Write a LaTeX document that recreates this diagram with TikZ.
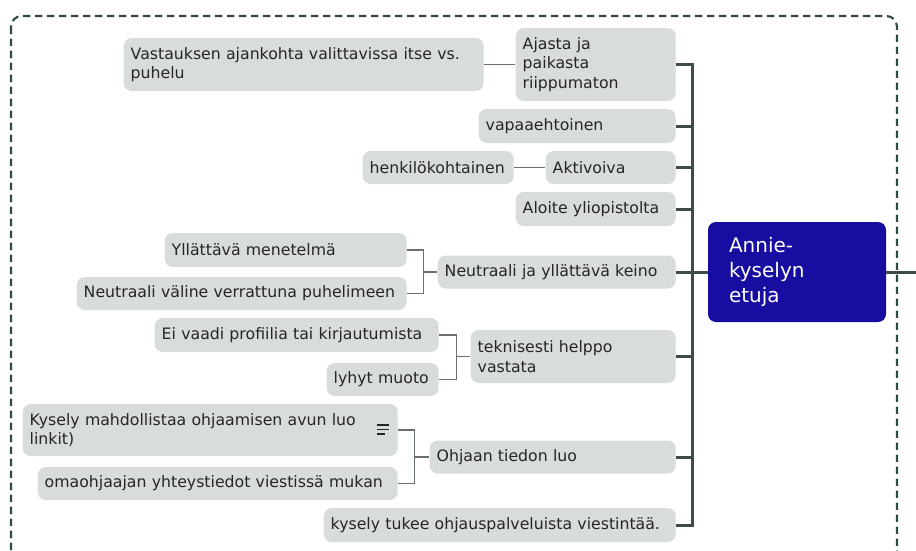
\documentclass[tikz,border=0pt]{standalone}
\usepackage{fontspec}
\setmainfont{DejaVu Sans}
\usepackage{xcolor}
\usepackage{tikz}
\usetikzlibrary{calc,positioning}

\definecolor{boxgray}{HTML}{D9DCDC}
\definecolor{annieblue}{HTML}{170DA0}
\definecolor{framegreen}{HTML}{2F4B47}
\definecolor{trunkgray}{HTML}{3E4C48}
\definecolor{twiggray}{HTML}{68716F}
\definecolor{inkgray}{HTML}{262626}

\begin{document}
\begin{tikzpicture}[x=.75pt,y=-.75pt,
  idea/.style={fill=boxgray,rounded corners=6pt,anchor=east,align=left,text=inkgray,
    font=\fontsize{11.8}{14.5}\selectfont,inner xsep=5.25pt,inner ysep=0pt},
  wd/.style={text width={(#1-14)*.75pt}},
  ht/.style={minimum height={#1*.75pt}},
  root/.style={fill=annieblue,rounded corners=6pt,align=left,text=white,
    font=\fontsize{15}{19}\selectfont,inner xsep=15.75pt,inner ysep=0pt,
    text width=102pt,minimum height=75pt},
  trunkline/.style={draw=trunkgray,line width=2.25pt},
  twig/.style={draw=twiggray,line width=.9pt},
  frame/.style={draw=framegreen,line width=1.6pt,dash pattern=on 5.5pt off 3.5pt,rounded corners=8pt}]
\useasboundingbox (0,0) rectangle (916,550);
\draw[frame] (11,16) rectangle (897,562);

% centre
\node[root] (annie) at (797,272) {Annie-\\kyselyn\\etuja};
\coordinate (trunk) at (692,0);
\coordinate (exit) at (916,272);

% first level
\node[idea,wd=160,ht=73] (ajasta) at (676,64.5) {Ajasta ja\\paikasta\\riippumaton};
\node[idea,wd=197,ht=34] (vapaa) at (676,126) {vapaaehtoinen};
\node[idea,wd=130,ht=33] (aktiv) at (676,167.5) {Aktivoiva};
\node[idea,wd=160,ht=34] (aloite) at (676,209) {Aloite yliopistolta};
\node[idea,wd=238,ht=33] (neutr) at (676,272) {Neutraali ja yllättävä keino};
\node[idea,wd=205,ht=53] (tekn) at (676,356.5) {teknisesti helppo\\vastata};
\node[idea,wd=246,ht=33] (ohjaan) at (676,457) {Ohjaan tiedon luo};
\node[idea,wd=352,ht=34] (tukee) at (676,525) {kysely tukee ohjauspalveluista viestintää.};

% second level
\node[idea,wd=360,ht=53] (vast) at (484,64.5) {Vastauksen ajankohta valittavissa itse vs.\\puhelu};
\node[idea,wd=151,ht=33] (henk) at (514,167.5) {henkilökohtainen};
\node[idea,wd=242,ht=34] (yllat) at (407,250) {Yllättävä menetelmä};
\node[idea,wd=330,ht=33] (valine) at (407,293.5) {Neutraali väline verrattuna puhelimeen};
\node[idea,wd=284,ht=34] (profiili) at (439,335) {Ei vaadi profiilia tai kirjautumista};
\node[idea,wd=112,ht=33] (lyhyt) at (439,379.5) {lyhyt muoto};
\node[idea,wd=375,ht=52] (linkit) at (398,430) {Kysely mahdollistaa ohjaamisen avun luo\\linkit)};
\node[idea,wd=360,ht=33] (omaohj) at (398,483.5) {omaohjaajan yhteystiedot viestissä mukan};

% note icon
\draw[draw=inkgray,line width=1pt] ($(linkit.east)+(-21,-5)$) -- ++(12,0)
  ($(linkit.east)+(-21,-.5)$) -- ++(12,0) ($(linkit.east)+(-21,4)$) -- ++(8,0);

% trunk
\draw[trunkline] (ajasta.east) -- (ajasta.east -| trunk) -- (tukee.east -| trunk) -- (tukee.east);
\foreach \n in {vapaa,aktiv,aloite,neutr,tekn,ohjaan}
  \draw[trunkline] (\n.east) -- (\n.east -| trunk);
\draw[trunkline] (annie.west) -- (annie.west -| trunk);
\draw[trunkline] (annie.east) -- (exit);

% twigs
\draw[twig] (vast.east) -- (ajasta.west);
\draw[twig] (henk.east) -- (aktiv.west);
\coordinate (b1) at ($(neutr.west)+(-14,0)$);
\draw[twig] (yllat.east) -| (b1) |- (valine.east);
\draw[twig] (b1) -- (neutr.west);
\coordinate (b2) at ($(tekn.west)+(-14,0)$);
\draw[twig] (profiili.east) -| (b2) |- (lyhyt.east);
\draw[twig] (b2) -- (tekn.west);
\coordinate (b3) at ($(ohjaan.west)+(-15,0)$);
\draw[twig] (linkit.east) -| (b3) |- (omaohj.east);
\draw[twig] (b3) -- (ohjaan.west);
\end{tikzpicture}
\end{document}
